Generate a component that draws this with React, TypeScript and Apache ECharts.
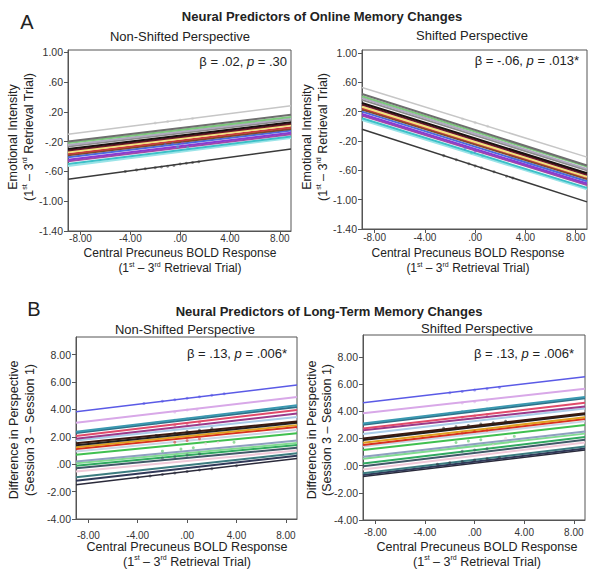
import React, { useEffect, useRef } from "react";
import * as echarts from "echarts";

// ---------- data ----------
const X_MIN = -9;
const X_MAX = 8.9;
const xTicks = [-8, -4, 0, 4, 8];
const yTicksA = [-1.4, -1.0, -0.6, -0.2, 0.2, 0.6, 1.0];
const yTicksB = [-4, -2, 0, 2, 4, 6, 8];

// Panel A lines (value at x = X_MIN and at x = X_MAX)
const colorsA = [
  "#c6c6c6", "#6e6e6e", "#7cc87c", "#b0a8c0", "#8c8c8c", "#1c1010", "#6a1828", "#f2e27a",
  "#c83a3a", "#7a4a2a", "#4a6ae0", "#8a3ad0", "#a04aa8", "#3cc0c8", "#9ae4e8", "#3a3a3a",
];
const aLeftStart = [-0.1, -0.2, -0.22, -0.245, -0.267, -0.3, -0.32, -0.342, -0.365, -0.382, -0.41, -0.445, -0.463, -0.5, -0.526, -0.704];
const aLeftEnd = [0.28, 0.16, 0.13, 0.11, 0.09, 0.06, 0.04, 0.02, -0.01, -0.03, -0.05, -0.08, -0.1, -0.13, -0.15, -0.3];
const aRightStart = [0.53, 0.44, 0.41, 0.385, 0.36, 0.317, 0.295, 0.267, 0.25, 0.23, 0.2, 0.167, 0.148, 0.11, 0.085, -0.04];
const aRightEnd = [-0.42, -0.534, -0.55, -0.58, -0.6, -0.64, -0.66, -0.69, -0.7, -0.72, -0.75, -0.78, -0.8, -0.84, -0.86, -1.03];

// Panel B lines
const colorsB = [
  "#5a5ae6", "#d8a8e8", "#3a98b0", "#2e7088", "#e04a6a", "#9a3a8a", "#a8cce8", "#3a1a10",
  "#202020", "#e0a020", "#d83020", "#c8d4e4", "#40c050", "#8fa0c0", "#80dc90", "#30a860",
  "#405868", "#f0c8d8", "#3c7c80", "#303858", "#2a2a3a",
];
const bLeftStart = [3.83, 3.03, 2.37, 2.28, 2.06, 1.85, 1.72, 1.53, 1.38, 1.24, 1.11, 0.92, 0.68, 0.19, 0.07, -0.12, -0.29, -0.54, -0.95, -1.21, -1.5];
const bLeftEnd = [5.77, 4.9, 4.3, 4.18, 3.95, 3.7, 3.45, 3.12, 3.02, 2.85, 2.72, 2.5, 2.25, 1.72, 1.55, 1.4, 1.2, 1.0, 0.8, 0.62, 0.42];
const bRightStart = [4.62, 3.84, 3.1, 3.0, 2.72, 2.6, 2.32, 2.0, 1.88, 1.68, 1.51, 1.4, 1.14, 0.65, 0.5, 0.16, -0.04, -0.28, -0.57, -0.7, -0.8];
const bRightEnd = [6.53, 5.65, 5.05, 4.95, 4.62, 4.35, 4.2, 3.85, 3.78, 3.55, 3.42, 3.25, 2.98, 2.5, 2.35, 2.1, 1.9, 1.7, 1.4, 1.25, 1.14];

// scattered observations (x, y, colour index)
const dotsALeft = [
  [-4.4, -0.6, 15], [-3.5, -0.58, 15], [-2.8, -0.565, 15], [-2.0, -0.55, 15], [-1.5, -0.54, 15], [-1.0, -0.53, 15],
  [-0.5, -0.52, 15], [0, -0.5, 15], [0.5, -0.49, 15], [1.0, -0.48, 15], [1.5, -0.47, 15],
  [-2.0, 0.05, 0], [-1.0, 0.07, 0], [0, 0.09, 0], [1.0, 0.11, 0],
  [-1.2, -0.24, 10], [-0.6, -0.23, 10], [0.2, -0.22, 11], [0.8, -0.25, 11], [-0.2, -0.27, 13], [0.6, -0.28, 13],
];
const dotsARight = [
  [-2.5, -0.4, 15], [-1.5, -0.455, 15], [-0.5, -0.51, 15], [0, -0.54, 15], [0.5, -0.565, 15], [1.5, -0.62, 15],
  [2.5, -0.68, 15], [3.0, -0.705, 15],
  [-1.0, 0.1, 0], [0, 0.05, 0], [1.0, 0.0, 0],
  [-0.8, -0.3, 10], [0, -0.34, 11], [0.6, -0.4, 13], [-0.3, -0.36, 13],
];
const dotsBLeft = [
  [-3.5, 4.43, 0], [-2, 4.59, 0], [-1, 4.7, 0], [0, 4.81, 0], [1, 4.92, 0], [2, 5.03, 0], [3, 5.14, 0],
  [-1, 3.8, 1], [0, 3.95, 1], [0.8, 4.0, 1],
  [-2.5, 3.0, 2], [-1, 3.2, 2], [0, 3.3, 2], [1.5, 3.45, 2],
  [-1, 2.85, 4], [0, 2.95, 4], [1, 3.05, 4],
  [-2.5, 2.1, 8], [-1, 2.25, 8], [0, 2.38, 8], [1, 2.48, 8], [2, 2.6, 8],
  [-1, 1.6, 10], [0, 1.72, 10], [1, 1.85, 10],
  [-2, 0.95, 12], [-0.5, 1.1, 12], [0.5, 1.2, 12], [3.8, 1.6, 12],
  [-2, 0.45, 16], [-1, 0.55, 16], [0, 0.66, 16], [1, 0.75, 16],
  [-4, -0.97, 20], [-3, -0.86, 20], [-2, -0.75, 20], [-1, -0.65, 20], [0, -0.54, 20], [1, -0.43, 20],
  [2, -0.33, 20], [4, -0.12, 20], [1.5, 1.5, 17], [2.5, 1.6, 17],
];
const dotsBRight = [
  [-2, 5.35, 0], [-1, 5.45, 0], [0, 5.55, 0], [1, 5.65, 0], [2, 5.75, 0],
  [-1, 4.6, 1], [0, 4.7, 1], [1, 4.8, 1],
  [-2, 3.85, 2], [-1, 3.95, 2], [0, 4.05, 2], [1, 4.15, 2],
  [-1, 3.55, 4], [0, 3.65, 4], [1, 3.75, 4],
  [-2.5, 2.75, 8], [-1.5, 2.85, 8], [-0.5, 2.95, 8], [0.5, 3.05, 8], [1.5, 3.15, 8], [2.5, 3.25, 8],
  [-1, 2.4, 10], [0, 2.5, 10], [1, 2.6, 10],
  [-1.5, 1.7, 12], [-0.5, 1.8, 12], [0.5, 1.9, 12], [3.2, 2.15, 12],
  [-1, 1.05, 16], [0, 1.15, 16], [1, 1.25, 16],
  [-3, 0.1, 20], [-2, 0.2, 20], [-1, 0.3, 20], [0, 0.4, 20], [1, 0.5, 20], [2, 0.6, 20],
  [2.5, 2.0, 17], [1.5, 1.5, 17],
];

// ---------- helpers ----------
const FONT = "'Liberation Sans', Arial, Helvetica, sans-serif";

const fmt = (v: number) => {
  const s = Math.abs(v).toFixed(2).replace(/^0/, "");
  return v < -1e-9 ? "-" + s : s;
};

export default function App() {
  const ref = useRef<HTMLDivElement>(null);

  useEffect(() => {
    if (!ref.current) return;
    const chart = echarts.init(ref.current, null, { renderer: "svg" });

    const grids = [
      { left: 68, top: 50, width: 223, height: 181 },
      { left: 362, top: 50, width: 225, height: 179 },
      { left: 76, top: 337, width: 221, height: 182 },
      { left: 363, top: 335, width: 222, height: 185 },
    ];
    const yRanges = [
      { min: -1.4, max: 1.03, ticks: yTicksA },
      { min: -1.4, max: 1.04, ticks: yTicksA },
      { min: -4, max: 9.28, ticks: yTicksB },
      { min: -4, max: 9.6, ticks: yTicksB },
    ];
    const xLabelMargins = [2, 3, 11, 7];

    const axisColor = "#555";
    const labelColor = "#333";

    const xAxis = grids.map((_, i) => ({
      type: "value",
      gridIndex: i,
      min: X_MIN,
      max: X_MAX,
      splitLine: { show: false },
      axisLine: { show: true, onZero: false, lineStyle: { color: axisColor, width: 1 } },
      axisTick: { show: true, inside: false, length: 4, customValues: xTicks, lineStyle: { color: axisColor } },
      axisLabel: {
        customValues: xTicks,
        formatter: fmt,
        fontSize: 10,
        fontFamily: FONT,
        color: labelColor,
        margin: xLabelMargins[i],
      },
    }));
    const yAxis = grids.map((_, i) => ({
      type: "value",
      gridIndex: i,
      min: yRanges[i].min,
      max: yRanges[i].max,
      splitLine: { show: false },
      axisLine: { show: true, onZero: false, lineStyle: { color: axisColor, width: 1 } },
      axisTick: { show: true, inside: false, length: 4, customValues: yRanges[i].ticks, lineStyle: { color: axisColor } },
      axisLabel: {
        customValues: yRanges[i].ticks,
        formatter: fmt,
        fontSize: 10.5,
        fontFamily: FONT,
        color: labelColor,
        margin: 5,
      },
    }));

    const series: any[] = [];
    const addLines = (gi: number, starts: number[], ends: number[], colors: string[]) => {
      for (let j = starts.length - 1; j >= 0; j--) {
        series.push({
          type: "line",
          xAxisIndex: gi,
          yAxisIndex: gi,
          data: [
            [X_MIN, starts[j]],
            [X_MAX, ends[j]],
          ],
          showSymbol: false,
          symbol: "none",
          silent: true,
          lineStyle: { color: colors[j], width: j === 0 || j === starts.length - 1 ? 1.5 : 2 },
          z: 2,
        });
      }
    };
    const addDots = (gi: number, dots: number[][], colors: string[]) => {
      series.push({
        type: "scatter",
        xAxisIndex: gi,
        yAxisIndex: gi,
        data: dots.map((d) => ({ value: [d[0], d[1]], itemStyle: { color: colors[d[2]] } })),
        symbolSize: 3,
        silent: true,
        itemStyle: { opacity: 0.55 },
        z: 3,
      });
    };
    addLines(0, aLeftStart, aLeftEnd, colorsA);
    addLines(1, aRightStart, aRightEnd, colorsA);
    addLines(2, bLeftStart, bLeftEnd, colorsB);
    addLines(3, bRightStart, bRightEnd, colorsB);
    addDots(0, dotsALeft, colorsA);
    addDots(1, dotsARight, colorsA);
    addDots(2, dotsBLeft, colorsB);
    addDots(3, dotsBRight, colorsB);

    const txtColor = "#222";
    const text = (x: number, y: number, t: string, opts: any = {}) => ({
      type: "text",
      x,
      y,
      rotation: opts.rotation || 0,
      silent: true,
      style: {
        text: t,
        fontFamily: FONT,
        fontSize: opts.fontSize || 12.5,
        fontWeight: opts.fontWeight || "normal",
        fill: txtColor,
        align: opts.align || "center",
        verticalAlign: "middle",
        rich: opts.rich,
      },
    });

    const supRich = {
      n: { fontSize: 12.5, fontFamily: FONT, fill: txtColor, lineHeight: 14, verticalAlign: "bottom" },
      s: { fontSize: 7, fontFamily: FONT, fill: txtColor, lineHeight: 14, verticalAlign: "top" },
    };
    const supRichA = {
      n: { fontSize: 12, fontFamily: FONT, fill: txtColor, lineHeight: 13, verticalAlign: "bottom" },
      s: { fontSize: 7, fontFamily: FONT, fill: txtColor, lineHeight: 13, verticalAlign: "top" },
    };
    const trialText = "{n|(1}{s|st}{n| – 3}{s|rd}{n| Retrieval Trial)}";
    const statRich = {
      n: { fontSize: 13, fontFamily: FONT, fill: txtColor },
      i: { fontSize: 13, fontFamily: FONT, fill: txtColor, fontStyle: "italic" },
    };

    const graphic: any[] = [
      text(27, 22, "A", { fontSize: 20 }),
      text(34, 309, "B", { fontSize: 20 }),
      text(322, 16, "Neural Predictors of Online Memory Changes", { fontWeight: "bold", fontSize: 13 }),
      text(329, 311, "Neural Predictors of Long-Term Memory Changes", { fontWeight: "bold", fontSize: 13 }),
      text(180, 36, "Non-Shifted Perspective", { fontSize: 13 }),
      text(472, 35, "Shifted Perspective", { fontSize: 13 }),
      text(185, 329, "Non-Shifted Perspective", { fontSize: 13 }),
      text(477, 328, "Shifted Perspective", { fontSize: 13 }),
      // stats
      text(287, 61, "{n|β = .02, }{i|p}{n| = .30}", { align: "right", rich: statRich }),
      text(579, 60, "{n|β = -.06, }{i|p}{n| = .013*}", { align: "right", rich: statRich }),
      text(287, 353, "{n|β = .13, }{i|p}{n| = .006*}", { align: "right", rich: statRich }),
      text(574, 353, "{n|β = .13, }{i|p}{n| = .006*}", { align: "right", rich: statRich }),
      // x axis names
      text(180, 252.5, "Central Precuneus BOLD Response", { fontSize: 12 }),
      text(180, 267, trialText, { rich: supRichA }),
      text(468, 252.5, "Central Precuneus BOLD Response", { fontSize: 12 }),
      text(468, 267, trialText, { rich: supRichA }),
      text(187, 547, "Central Precuneus BOLD Response"),
      text(187, 561, trialText, { rich: supRich }),
      text(477, 547, "Central Precuneus BOLD Response"),
      text(477, 561, trialText, { rich: supRich }),
      // y axis names
      text(13, 137, "Emotional Intensity", { rotation: Math.PI / 2 }),
      text(28, 137, trialText, { rotation: Math.PI / 2, rich: supRich }),
      text(307, 137, "Emotional Intensity", { rotation: Math.PI / 2 }),
      text(322, 137, trialText, { rotation: Math.PI / 2, rich: supRich }),
      text(14, 430, "Difference in Perspective", { rotation: Math.PI / 2 }),
      text(30, 430, "(Session 3 – Session 1)", { rotation: Math.PI / 2 }),
      text(312, 430, "Difference in Perspective", { rotation: Math.PI / 2 }),
      text(327, 430, "(Session 3 – Session 1)", { rotation: Math.PI / 2 }),
    ];

    chart.setOption({
      animation: false,
      backgroundColor: "#ffffff",
      grid: grids.map((g) => ({
        ...g,
        show: true,
        borderColor: axisColor,
        borderWidth: 1,
        backgroundColor: "transparent",
        containLabel: false,
      })),
      xAxis,
      yAxis,
      series,
      graphic,
    });

    return () => chart.dispose();
  }, []);

  return (
    <div
      ref={ref}
      style={{ position: "fixed", left: 0, top: 0, width: 601, height: 580, background: "#fff" }}
    />
  );
}
